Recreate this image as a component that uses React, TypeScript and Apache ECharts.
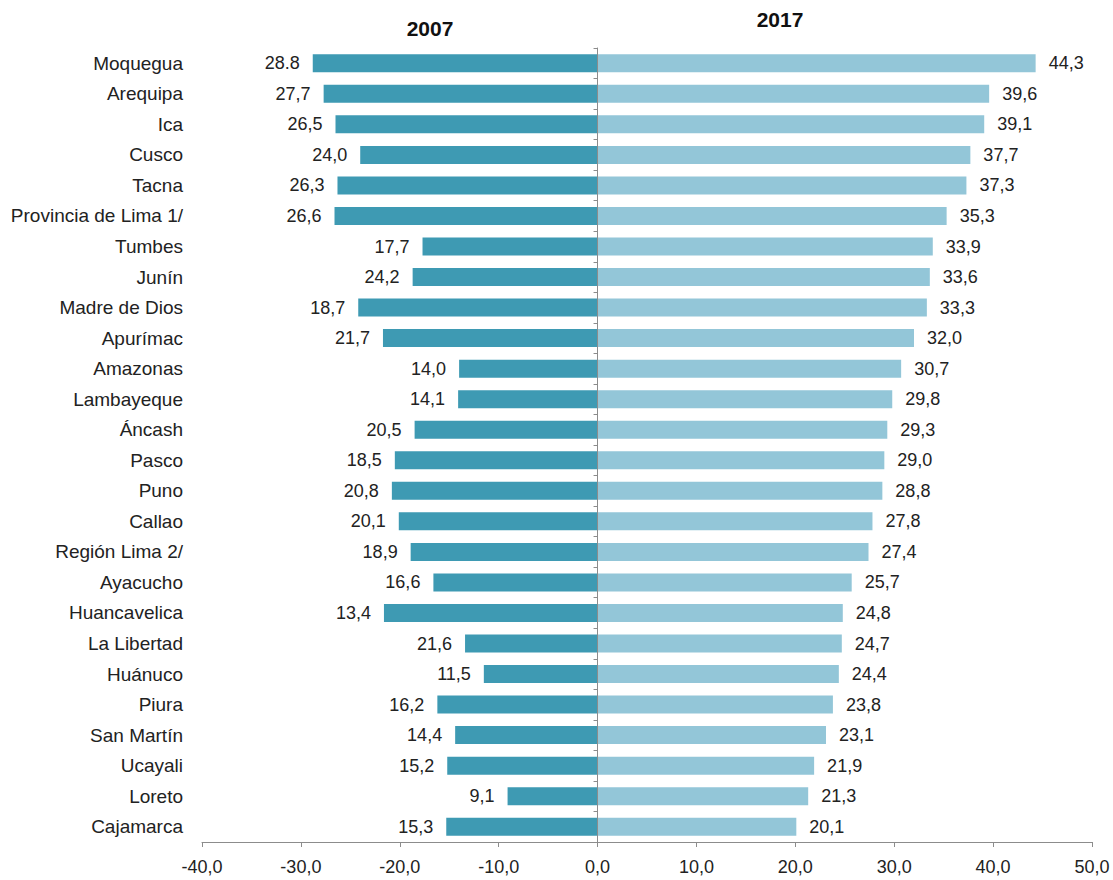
import React, { useEffect, useRef } from "react";
import * as echarts from "echarts";

const categories = [
  "Moquegua", "Arequipa", "Ica", "Cusco", "Tacna", "Provincia de Lima 1/",
  "Tumbes", "Junín", "Madre de Dios", "Apurímac", "Amazonas", "Lambayeque",
  "Áncash", "Pasco", "Puno", "Callao", "Región Lima 2/", "Ayacucho",
  "Huancavelica", "La Libertad", "Huánuco", "Piura", "San Martín", "Ucayali",
  "Loreto", "Cajamarca",
];

// 2007 bar lengths as drawn in the reference
const values2007 = [
  28.8, 27.7, 26.5, 24.0, 26.3, 26.6, 17.7, 18.7, 24.2, 21.7, 14.0, 14.1,
  18.5, 20.5, 20.8, 20.1, 18.9, 16.6, 21.6, 13.4, 11.5, 16.2, 14.4, 15.2,
  9.1, 15.3,
];

// 2007 labels as printed in the reference
const labels2007 = [
  "28.8", "27,7", "26,5", "24,0", "26,3", "26,6", "17,7", "24,2", "18,7",
  "21,7", "14,0", "14,1", "20,5", "18,5", "20,8", "20,1", "18,9", "16,6",
  "13,4", "21,6", "11,5", "16,2", "14,4", "15,2", "9,1", "15,3",
];

const values2017 = [
  44.3, 39.6, 39.1, 37.7, 37.3, 35.3, 33.9, 33.6, 33.3, 32.0, 30.7, 29.8,
  29.3, 29.0, 28.8, 27.8, 27.4, 25.7, 24.8, 24.7, 24.4, 23.8, 23.1, 21.9,
  21.3, 20.1,
];

const seriesNames = ["2007", "2017"];
const xTicks = { min: -40, max: 50, interval: 10 };

const FONT = "'Liberation Sans', Arial, sans-serif";
const fmt = (v: number) => v.toFixed(1).replace(".", ",");

export default function App() {
  const ref = useRef<HTMLDivElement>(null);

  useEffect(() => {
    if (!ref.current) return;
    const chart = echarts.init(ref.current, null, { renderer: "svg" });
    chart.setOption({
      animation: false,
      backgroundColor: "#ffffff",
      textStyle: { fontFamily: FONT },
      graphic: [
        {
          type: "text",
          x: 430,
          y: 28,
          style: {
            text: seriesNames[0],
            font: `bold 21px ${FONT}`,
            fill: "#111",
            textAlign: "center",
            textVerticalAlign: "middle",
          },
        },
        {
          type: "text",
          x: 780,
          y: 19,
          style: {
            text: seriesNames[1],
            font: `bold 21px ${FONT}`,
            fill: "#111",
            textAlign: "center",
            textVerticalAlign: "middle",
          },
        },
      ],
      grid: { left: 202, right: 21, top: 48, bottom: 38, containLabel: false },
      xAxis: {
        type: "value",
        min: xTicks.min,
        max: xTicks.max,
        interval: xTicks.interval,
        splitLine: { show: false },
        axisLine: { show: true, onZero: false, lineStyle: { color: "#8c8c8c", width: 1 } },
        axisTick: { show: true, length: 5, lineStyle: { color: "#8c8c8c" } },
        axisLabel: {
          formatter: (v: number) => fmt(v),
          fontSize: 18,
          color: "#222",
          margin: 16,
          fontFamily: FONT,
        },
      },
      yAxis: [
        {
          type: "category",
          data: categories,
          inverse: true,
          position: "left",
          axisLine: { show: false, onZero: false },
          axisTick: { show: false },
          axisLabel: { fontSize: 19, color: "#222", margin: 19, fontFamily: FONT },
        },
        {
          type: "category",
          data: categories,
          inverse: true,
          position: "left",
          z: 5,
          axisLine: { show: true, onZero: true, lineStyle: { color: "#8c8c8c", width: 1 } },
          axisTick: { show: true, length: 4, inside: false, lineStyle: { color: "#8c8c8c" } },
          axisLabel: { show: false },
          splitLine: { show: false },
        },
      ],
      series: [
        {
          name: seriesNames[0],
          type: "bar",
          yAxisIndex: 0,
          data: values2007.map((v) => -v),
          barWidth: 18,
          barGap: "-100%",
          itemStyle: { color: "#3e9ab3" },
          label: {
            show: true,
            position: "left",
            distance: 13,
            fontSize: 18,
            color: "#222",
            fontFamily: FONT,
            formatter: (p: any) => labels2007[p.dataIndex],
          },
        },
        {
          name: seriesNames[1],
          type: "bar",
          yAxisIndex: 0,
          data: values2017,
          barWidth: 18,
          barGap: "-100%",
          itemStyle: { color: "#93c6d8" },
          label: {
            show: true,
            position: "right",
            distance: 13,
            fontSize: 18,
            color: "#222",
            fontFamily: FONT,
            formatter: (p: any) => fmt(p.value),
          },
        },
      ],
    });
    return () => chart.dispose();
  }, []);

  return (
    <div
      ref={ref}
      style={{ position: "fixed", left: 0, top: 0, width: 1113, height: 880 }}
    />
  );
}
